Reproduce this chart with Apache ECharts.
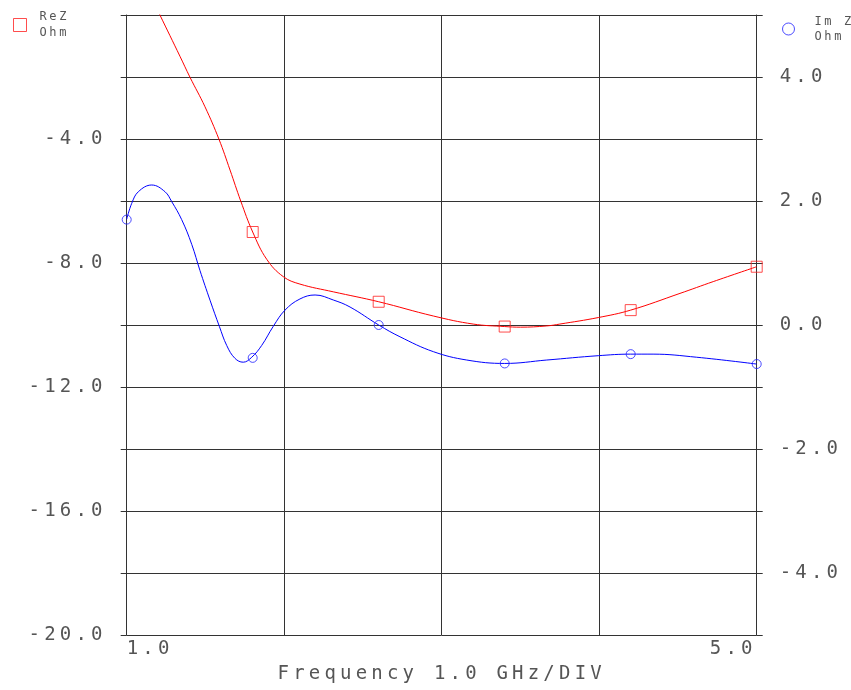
<!DOCTYPE html>
<html>
<head>
<meta charset="utf-8">
<script src="https://cdn.jsdelivr.net/npm/echarts@6/dist/echarts.min.js"></script>
<style>
html,body{margin:0;padding:0;background:#fff;overflow:hidden;}
#chart{width:851px;height:690px;}
</style>
</head>
<body>
<div id="chart"></div>
<script>
// ReZ curve (left axis, Ohm) vs frequency (GHz)
const reFreq = [1.1, 1.211, 1.338, 1.402, 1.497, 1.586, 1.656, 1.724, 1.8, 1.889, 1.994, 2.10, 2.312, 2.6, 2.947, 3.2, 3.4, 3.5, 3.667, 3.75, 3.994, 4.2, 4.513, 4.724, 5.0];
const reVal  = [1.17, 0.0, -1.33, -2.01, -2.96, -4.01, -5.0, -6.0, -7.0, -7.88, -8.44, -8.68, -8.93, -9.25, -9.71, -9.97, -10.05, -10.07, -10.03, -9.97, -9.76, -9.52, -8.98, -8.60, -8.12];
// Im Z curve (right axis, Ohm)
const imFreq = [1.0, 1.032, 1.074, 1.159, 1.243, 1.286, 1.349, 1.413, 1.465, 1.529, 1.588, 1.635, 1.687, 1.74, 1.794, 1.857, 1.931, 2.005, 2.10, 2.196, 2.312, 2.418, 2.6, 2.735, 2.947, 3.159, 3.4, 3.667, 3.994, 4.2, 4.342, 4.619, 5.0];
const imVal  = [1.705, 1.963, 2.15, 2.258, 2.15, 1.989, 1.70, 1.30, 0.88, 0.40, -0.02, -0.33, -0.537, -0.60, -0.52, -0.33, -0.02, 0.24, 0.42, 0.484, 0.403, 0.29, 0.0, -0.19, -0.43, -0.565, -0.62, -0.565, -0.495, -0.47, -0.47, -0.52, -0.63];
// markers
const reMarkFreq = [1.8, 2.6, 3.4, 4.2, 5.0];
const reMarkVal  = [-7.0, -9.25, -10.05, -9.52, -8.12];
const imMarkFreq = [1.0, 1.8, 2.6, 3.4, 4.2, 5.0];
const imMarkVal  = [1.70, -0.53, 0.0, -0.62, -0.47, -0.63];
// axis labels
const leftLabels = [-20, -16, -12, -8, -4];
const rightLabels = [-4, -2, 0, 2, 4];
const xLabels = [1, 5];
const xTitle = 'Frequency 1.0 GHz/DIV';
const reName = 'ReZ';
const imName = 'Im Z';
const unitName = 'Ohm';

const zip = (a, b) => a.map((x, i) => [x, b[i]]);

// plotter-style wide letter spacing for all drawn text
(function () {
  const P = CanvasRenderingContext2D.prototype;
  const orig = P.fillText;
  P.fillText = function () {
    try {
      const m = /(\d+(?:\.\d+)?)px/.exec(this.font);
      const size = m ? parseFloat(m[1]) : 12;
      this.letterSpacing = (size * 0.22).toFixed(1) + 'px';
    } catch (e) {}
    return orig.apply(this, arguments);
  };
})();

const dom = document.getElementById('chart');
const chart = echarts.init(dom, null, {renderer: 'canvas'});

const FONT = 'DejaVu Sans Mono';
const TXT = '#555';
const GRID = '#333';

chart.setOption({
  animation: false,
  backgroundColor: '#fff',
  grid: {left: 126.7, right: 94.3, top: 15, bottom: 55, containLabel: false, outerBoundsMode: 'none'},
  legend: [
    {data: [reName], left: 8, top: 4, orient: 'vertical', icon: 'rect', itemWidth: 13, itemHeight: 13, itemGap: 0,
     formatter: () => reName + '\n' + unitName,
     itemStyle: {color: 'rgba(255,255,255,0)', borderColor: '#ff2020', borderWidth: 1},
     textStyle: {fontFamily: FONT, fontSize: 12, color: TXT, lineHeight: 16, padding: [0, 0, 0, 8]}},
    {data: [imName], left: 777, top: 9, orient: 'vertical', icon: 'circle', itemWidth: 12, itemHeight: 12, itemGap: 0,
     formatter: () => imName + '\n' + unitName,
     itemStyle: {color: 'rgba(255,255,255,0)', borderColor: '#2020ff', borderWidth: 1},
     textStyle: {fontFamily: FONT, fontSize: 12, color: TXT, lineHeight: 15, padding: [0, 0, 0, 15]}}
  ],
  xAxis: {
    type: 'value', min: 1, max: 5, interval: 1,
    name: xTitle, nameLocation: 'middle', nameGap: 30,
    nameTextStyle: {fontFamily: FONT, fontSize: 19, color: TXT},
    axisLine: {show: true, lineStyle: {color: GRID, width: 1}},
    axisTick: {show: false},
    splitLine: {show: true, lineStyle: {color: GRID, width: 1}},
    axisLabel: {
      fontFamily: FONT, fontSize: 19, color: TXT, margin: 5,
      alignMinLabel: 'left', alignMaxLabel: 'right',
      formatter: v => xLabels.includes(v) ? v.toFixed(1) : ''
    }
  },
  yAxis: [
    {
      type: 'value', min: -20, max: 0, interval: 2, position: 'left',
      axisLine: {show: true, lineStyle: {color: GRID, width: 1}},
      axisTick: {show: true, length: 6, lineStyle: {color: GRID}},
      splitLine: {show: true, lineStyle: {color: GRID, width: 1}},
      axisLabel: {
        fontFamily: FONT, fontSize: 19, color: TXT, margin: 20,
        formatter: v => leftLabels.includes(v) ? v.toFixed(1) : ''
      }
    },
    {
      type: 'value', min: -5, max: 5, interval: 1, position: 'right',
      axisLine: {show: true, lineStyle: {color: GRID, width: 1}},
      axisTick: {show: true, length: 6, lineStyle: {color: GRID}},
      splitLine: {show: false},
      axisLabel: {
        fontFamily: FONT, fontSize: 19, color: TXT, margin: 23,
        formatter: v => rightLabels.includes(v) ? v.toFixed(1) : ''
      }
    }
  ],
  series: [
    {name: 'ReZ curve', type: 'line', yAxisIndex: 0, data: zip(reFreq, reVal), smooth: 0.4,
     showSymbol: false, symbol: 'none', lineStyle: {color: '#ff0000', width: 1}, clip: true, z: 3},
    {name: 'ImZ curve', type: 'line', yAxisIndex: 1, data: zip(imFreq, imVal), smooth: 0.4,
     showSymbol: false, symbol: 'none', lineStyle: {color: '#0000ff', width: 1}, clip: true, z: 3},
    {name: reName, type: 'scatter', yAxisIndex: 0, data: zip(reMarkFreq, reMarkVal), symbol: 'rect', symbolSize: 11,
     itemStyle: {color: 'rgba(255,255,255,0)', borderColor: '#ff2020', borderWidth: 1}, clip: false, z: 4},
    {name: imName, type: 'scatter', yAxisIndex: 1, data: zip(imMarkFreq, imMarkVal), symbol: 'circle', symbolSize: 9,
     itemStyle: {color: 'rgba(255,255,255,0)', borderColor: '#2020ff', borderWidth: 1}, clip: false, z: 4}
  ]
});
</script>
</body>
</html>
